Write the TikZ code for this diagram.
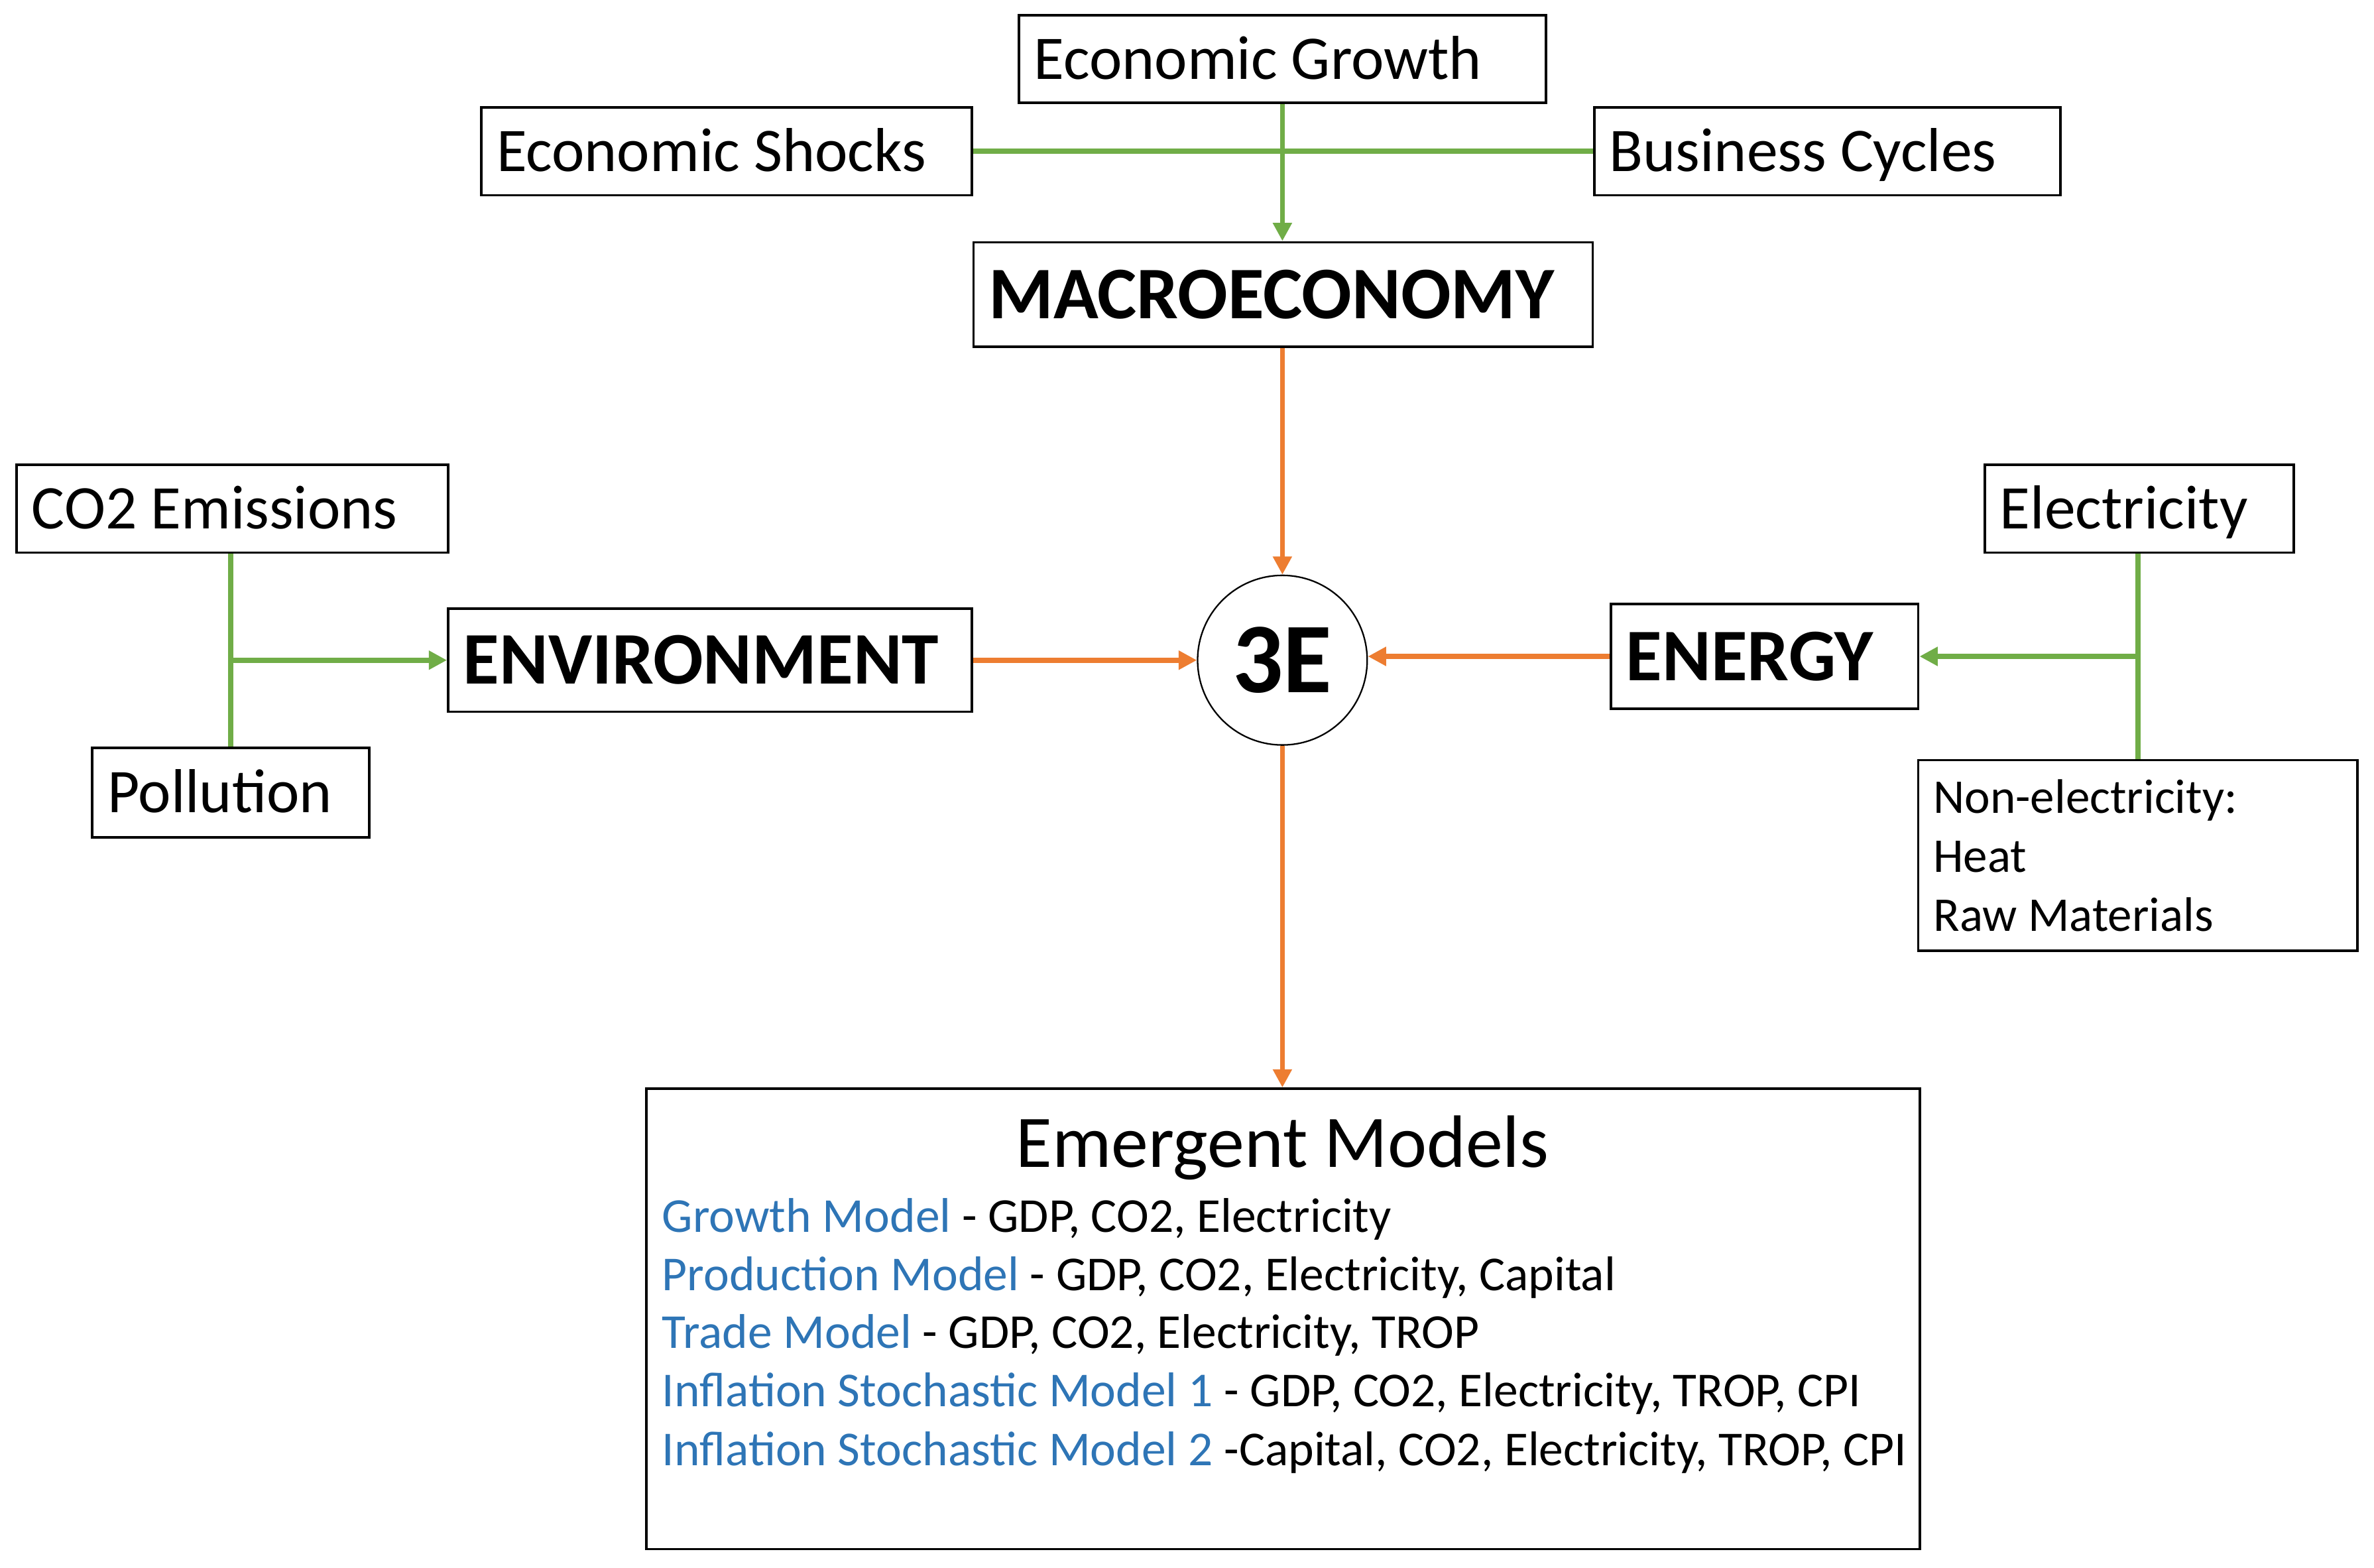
\documentclass[tikz,border=0pt]{standalone}
\usepackage{fontspec}
\setmainfont{Carlito}
\usetikzlibrary{arrows.meta}
\definecolor{gr}{RGB}{112,173,71}
\definecolor{og}{RGB}{237,125,49}
\definecolor{bl}{RGB}{46,117,182}
\newcommand\myleft[2]{\makebox[#1][l]{#2}}
\begin{document}
\begin{tikzpicture}[x=0.5pt,y=-0.5pt,
 box/.style={draw, line width=0.8pt, inner xsep=5pt, inner ysep=0pt},
 lab/.style={box, font=\fontsize{20.5}{24}\selectfont, text height=13.2pt, text depth=0pt, minimum height=29pt},
 big/.style={box, font=\bfseries\fontsize{24.5}{28}\selectfont, text height=15.8pt, text depth=0pt, minimum height=34.5pt},
 gline/.style={draw=gr, line width=1.7pt},
 garrow/.style={gline, -{Triangle[length=6pt,width=6pt]}},
 oarrow/.style={draw=og, line width=1.7pt, -{Triangle[length=6pt,width=6pt]}},
 mline/.style={anchor=base west, inner sep=0pt, font=\fontsize{16.1}{19}\selectfont},
 ]
\useasboundingbox[fill=white] (0,0) rectangle (1568,1035.55);

\node[lab] (eg) at (847,39) {\myleft{164pt}{Economic Growth}};
\node[lab] (es) at (480,100) {\myleft{152pt}{Economic Shocks}};
\node[lab] (bc) at (1207,100) {\myleft{144pt}{Business Cycles}};
\node[big] (mac) at (847.5,194.5) {\myleft{194.5pt}{MACROECONOMY}};
\node[big, minimum height=34pt] (env) at (469,436) {\myleft{163pt}{ENVIRONMENT}};
\node[big] (ene) at (1165.5,433.5) {\myleft{91.5pt}{ENERGY}};
\node[lab] (co2) at (153.5,336) {\myleft{132.5pt}{CO2 Emissions}};
\node[lab, minimum height=29.5pt] (pol) at (152.5,523.5) {\myleft{81.5pt}{Pollution}};
\node[lab] (ele) at (1413,336) {\myleft{92pt}{Electricity}};
\node[box, font=\fontsize{16}{19.5}\selectfont, minimum height=63pt] (non) at (1412,565) {\parbox{135pt}{\raggedright Non-electricity:\\Heat\\Raw Materials}};

\node[circle, draw, line width=0.5pt, minimum size=56pt, inner sep=0pt, font=\bfseries\fontsize{33}{36}\selectfont] (c) at (847,436) {3E};

\node[draw, line width=0.8pt, minimum width=420.5pt, minimum height=152pt, inner sep=0pt] (em) at (847.5,871) {};
\node[anchor=base, inner sep=0pt, font=\fontsize{24.5}{28}\selectfont] (emt) at (847,771) {Emergent Models};
\node[mline] (m1) at (437,813.6) {\textcolor{bl}{Growth Model} - GDP, CO2, Electricity};
\node[mline] (m2) at (437,852.1) {\textcolor{bl}{Production Model} - GDP, CO2, Electricity, Capital};
\node[mline] (m3) at (437,890.6) {\textcolor{bl}{Trade Model} - GDP, CO2, Electricity, TROP};
\node[mline] (m4) at (437,929.1) {\textcolor{bl}{Inflation Stochastic Model 1} - GDP, CO2, Electricity, TROP, CPI};
\node[mline] (m5) at (437,967.7) {\textcolor{bl}{Inflation Stochastic Model 2} -Capital, CO2, Electricity, TROP, CPI};

\draw[gline] (es.east) -- (bc.west);
\draw[garrow] (eg.south) -- (eg.south |- mac.north);
\draw[oarrow] (c.north |- mac.south) -- (c.north);
\draw[oarrow] (env.east) -- (c.west);
\draw[oarrow] (ene.west) -- (c.east |- ene.west);
\draw[oarrow] (c.south) -- (c.south |- em.north);

\draw[gline] (co2.south -| pol.north) -- (pol.north);
\coordinate (j1) at (pol.north |- env.west);
\draw[garrow] (j1) -- (env.west);

\draw[gline] (ele.south -| non.north) -- (non.north);
\coordinate (j2) at (non.north |- ene.east);
\draw[garrow] (j2) -- (ene.east);
\end{tikzpicture}
\end{document}
